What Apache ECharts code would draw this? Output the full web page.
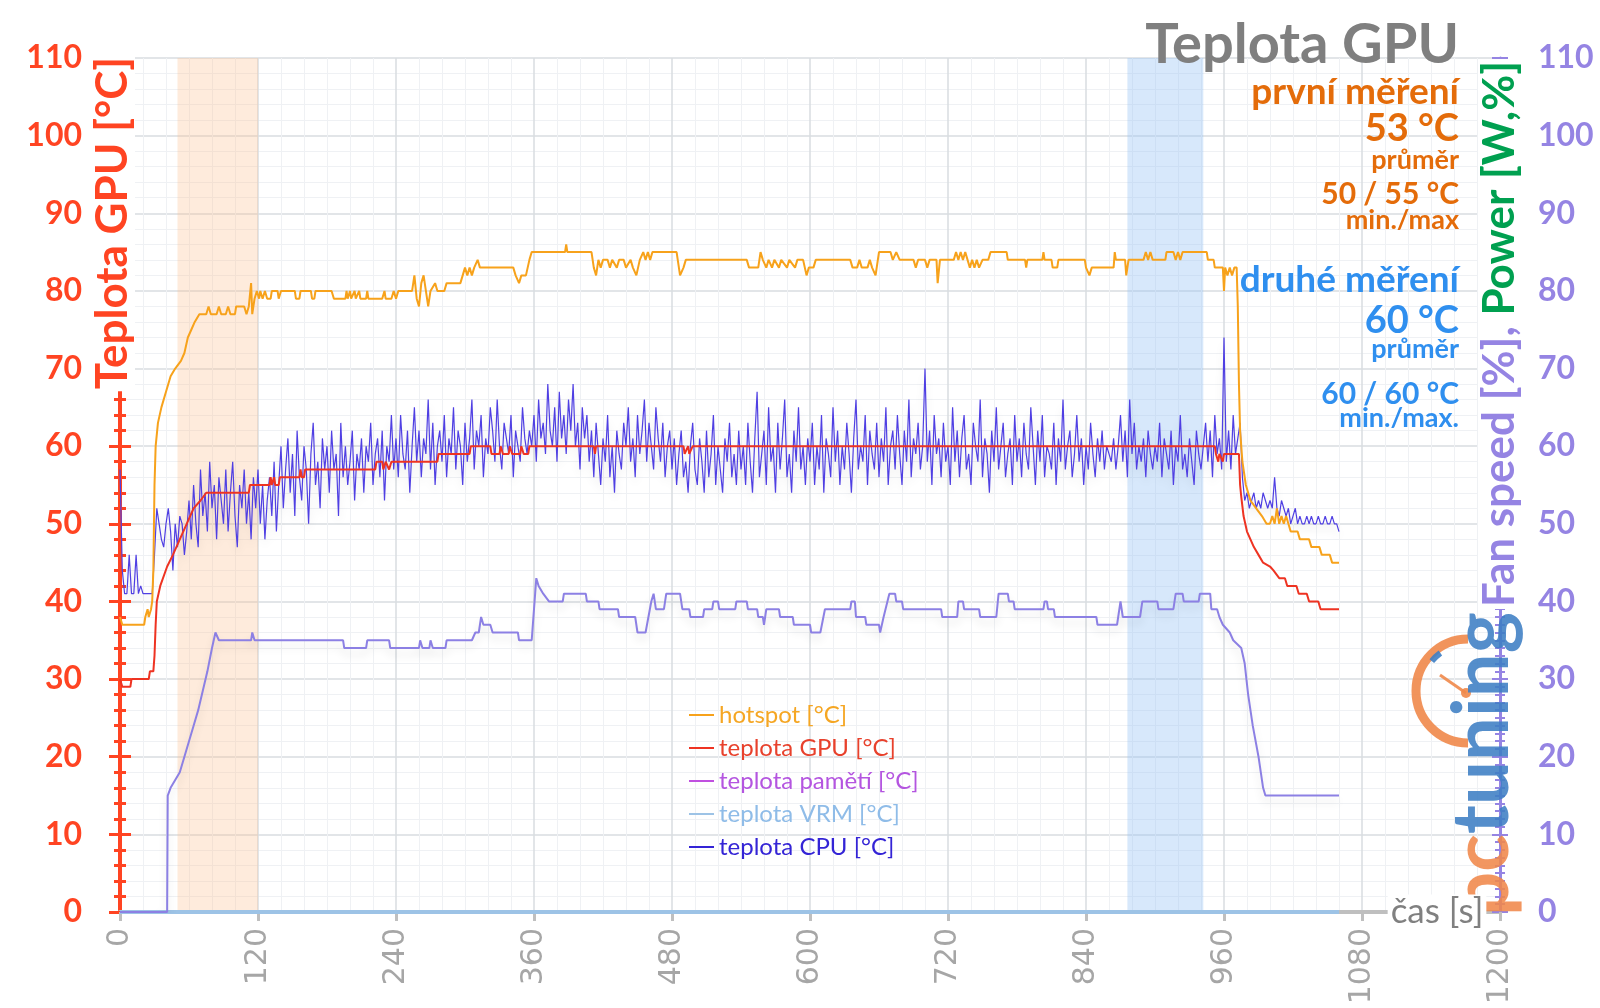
<!DOCTYPE html>
<html><head><meta charset="utf-8">
<script src="https://cdn.jsdelivr.net/npm/echarts@6/dist/echarts.min.js"></script>
<style>html,body{margin:0;padding:0;background:#fff}#c{width:1600px;height:1008px}</style>
</head><body><div id="c"></div><script>
// ---------- DATA ----------
const chartTitle = 'Teplota GPU';
const leftAxisTitle = 'Teplota GPU [°C]';
const rightAxisTitleA = 'Fan speed [%],';
const rightAxisTitleB = ' Power [W,%]';
const xAxisName = 'čas [s]';
const xMax = 1200, xStep = 120;
const yMax = 110, yStep = 10;
const firstRun = ['první měření', '53 °C', 'průměr', '50 / 55 °C', 'min./max'];
const secondRun = ['druhé měření', '60 °C', 'průměr', '60 / 60 °C', 'min./max.'];
const seriesNames = ['hotspot [°C]', 'teplota GPU [°C]', 'teplota pamětí [°C]', 'teplota VRM [°C]', 'teplota CPU [°C]'];
const orangeBand = [50, 120];
const blueBand = [876, 942];

// [time s, °C]
const hotspot = [[0,38],[2,37],[21,37],[22,38],[24,39],[25,38],[27,39],[28,40],[29,44],[30,55],[31,60],[33,63],[36,65],[40,67],[44,69],[48,70],[53,71],[56,72],[59,74],[62,75],[65,76],[69,77],[75,77],[77,78],[79,77],[84,77],[86,78],[88,77],[92,77],[94,78],[96,77],[100,77],[101,78],[108,78],[110,77],[112,78],[114,81],[115,77],[117,79],[119,80],[121,79],[122,80],[124,79],[126,80],[128,79],[131,79],[132,80],[137,80],[138,79],[140,80],[152,80],[153,79],[156,79],[157,80],[166,80],[167,79],[169,79],[170,80],[184,80],[186,79],[196,79],[197,80],[198,79],[200,80],[201,79],[204,80],[205,79],[208,80],[209,79],[214,79],[215,80],[216,79],[228,79],[230,80],[231,79],[236,79],[238,80],[240,79],[242,80],[254,80],[256,82],[258,79],[260,78],[262,81],[264,82],[266,80],[268,78],[270,80],[274,81],[276,80],[282,80],[284,81],[296,81],[298,82],[300,83],[302,82],[304,83],[306,82],[308,83],[311,84],[313,83],[342,83],[344,82],[347,81],[349,82],[353,82],[356,84],[358,85],[387,85],[388,86],[389,85],[410,85],[412,83],[414,82],[416,84],[418,83],[420,84],[424,84],[426,83],[428,84],[432,83],[434,84],[438,84],[440,83],[444,84],[446,83],[449,82],[452,84],[455,85],[457,84],[459,85],[461,84],[463,85],[484,85],[486,83],[487,82],[490,83],[492,84],[545,84],[547,83],[555,83],[557,85],[559,84],[562,83],[564,84],[567,83],[569,84],[573,83],[575,84],[580,83],[582,84],[587,83],[589,84],[594,84],[597,82],[599,83],[603,83],[605,84],[635,84],[637,83],[641,83],[643,84],[645,83],[650,83],[652,84],[654,83],[657,82],[660,85],[670,85],[672,84],[675,85],[678,84],[690,84],[692,83],[694,84],[700,84],[702,83],[704,84],[710,84],[711,81],[713,84],[725,84],[727,85],[729,84],[731,85],[733,84],[735,85],[737,84],[739,83],[741,84],[743,83],[745,84],[747,83],[750,84],[755,84],[757,85],[771,85],[772,84],[787,84],[788,83],[789,84],[802,84],[803,85],[804,84],[810,84],[811,83],[815,83],[816,84],[839,84],[840,83],[843,82],[845,83],[864,83],[865,85],[866,84],[874,84],[875,82],[877,84],[890,84],[892,85],[894,84],[896,85],[898,84],[909,84],[910,85],[916,85],[918,84],[920,85],[922,84],[924,85],[945,85],[946,84],[951,84],[952,83],[959,83],[960,80],[961,83],[963,82],[965,83],[967,82],[969,83],[971,83],[972,78],[973,68],[974,62],[976,58],[979,55],[983,53],[988,52],[993,51],[997,50],[1000,50],[1002,51],[1004,50],[1006,52],[1008,50],[1010,51],[1012,50],[1014,51],[1016,50],[1018,49],[1024,49],[1026,48],[1034,48],[1036,47],[1043,47],[1045,46],[1052,46],[1054,45],[1060,45]];

const gpuTemp = [[0,30],[2,29],[9,29],[10,30],[25,30],[26,31],[29,31],[30,33],[31,37],[32,40],[35,42],[41,44.5],[46,46],[52,48],[58,50],[64,52],[70,53],[75,54],[112,54],[113,55],[130,55],[131,56],[132,55],[134,56],[135,55],[138,55],[139,56],[156,56],[157,57],[158,56],[160,56],[161,57],[222,57],[223,58],[228,58],[229,57],[231,58],[234,57],[236,58],[276,58],[277,59],[304,59],[305,60],[322,60],[323,59],[330,59],[331,60],[333,59],[338,59],[339,60],[341,59],[348,59],[349,60],[351,59],[355,59],[356,60],[412,60],[413,59],[414,60],[490,60],[491,59],[494,60],[495,59],[498,60],[952,60],[953,59],[955,58],[956,59],[959,58],[960,59],[973,59],[974,55],[975,53.5],[977,51],[980,49],[983,48],[986,47],[990,46],[994,45],[1000,44.5],[1003,44],[1008,43],[1013,43],[1015,42],[1023,42],[1025,41],[1032,41],[1034,40],[1042,40],[1044,39],[1060,39]];

const memTemp = [[0,0],[1060,0]];
const vrmTemp = [[0,0],[1060,0]];

// CPU temperature, one reading every cpuStep seconds from t = 0 (one row = 60 s)
const cpuStep = 2;
const cpuTemp = [
  57,44,41,41,46,41,41,46,41,42,41,41,41,41,41,46,52,50,48,47,50,52,49,44,50,47,51,50,46,49,
  53,48,55,50,47,57,51,54,49,58,52,55,48,56,53,50,57,49,54,58,51,47,55,52,57,50,54,48,56,52,
  57,50,55,48,53,56,51,58,49,55,60,52,57,61,54,59,51,62,56,53,60,57,50,59,63,55,58,52,61,57,
  60,54,62,57,59,51,63,56,60,55,58,62,53,59,57,61,54,60,58,63,55,59,61,56,62,53,60,58,64,57,
  61,56,64,59,57,62,54,60,65,58,62,56,61,59,66,57,63,55,60,62,58,64,56,61,59,65,57,62,60,55,
  63,58,61,66,57,62,60,64,56,61,59,65,62,58,66,60,57,63,61,59,64,56,62,60,58,65,61,59,62,60,
  64,58,66,61,63,59,68,62,60,65,58,67,61,64,59,66,62,68,60,63,57,65,61,64,58,62,56,63,59,55,
  61,58,64,56,60,54,62,59,57,63,60,65,58,61,56,64,59,62,66,58,63,60,57,65,61,58,63,56,60,62,
  57,61,55,59,62,56,58,54,60,63,57,55,61,58,54,62,56,59,64,55,60,57,54,61,58,63,56,59,55,62,
  57,60,55,63,58,54,61,67,56,59,62,55,65,58,60,54,63,57,61,66,56,59,54,62,58,65,57,60,55,61,
  58,63,55,60,57,64,54,61,59,56,65,58,62,55,60,57,63,59,54,61,66,57,60,58,64,55,62,59,57,63,
  56,61,58,65,55,60,62,57,64,59,55,62,58,66,56,61,59,63,57,60,70,58,62,55,64,59,61,56,63,58,
  60,55,65,58,62,56,61,64,57,59,55,63,60,58,66,56,61,59,54,62,58,65,57,60,63,56,59,61,55,64,
  58,61,56,63,59,57,65,60,55,62,58,64,56,60,59,57,63,55,61,58,66,57,60,62,56,59,64,58,61,55,
  60,57,63,59,56,61,58,62,57,60,59,58,61,57,60,64,58,62,56,66,59,63,57,60,58,61,56,62,59,57,
  60,58,63,56,61,59,57,62,55,60,58,64,57,59,56,61,58,55,62,59,57,60,63,58,62,56,64,59,61,57,
  74,58,62,57,64,59,61,63,56,53,54,52,53,54,52,53,52,54,53,52,53,52,56,52,51,53,52,51,52,50,
  51,52,50,51,50,50,51,50,51,50,50,51,50,50,51,50,50,51,50,50,49
];

// fan speed [%] (right axis)
const fanSpeed = [[0,0],[41,0],[41.5,15],[44,16],[48,17],[52,18],[56,20],[60,22],[64,24],[68,26],[72,28.5],[76,31],[80,34],[83,36],[86,35],[114,35],[115,36],[117,35],[194,35],[195,34],[214,34],[215,35],[234,35],[235,34],[260,34],[261,35],[263,34],[269,34],[270,35],[272,34],[283,34],[284,35],[306,35],[309,36],[312,36],[314,38],[316,37],[322,37],[324,36],[346,36],[347,35],[358,35],[362,43],[364,42],[368,41],[373,40],[385,40],[386,41],[405,41],[406,40],[416,40],[417,39],[433,39],[434,38],[448,38],[450,36],[457,36],[462,40],[464,41],[466,39],[473,39],[475,41],[487,41],[489,39],[495,39],[496,38],[507,38],[508,39],[515,39],[516,40],[520,40],[521,39],[535,39],[536,40],[545,40],[546,39],[554,39],[555,38],[559,38],[560,37],[561,38],[562,39],[573,39],[574,38],[585,38],[586,37],[600,37],[601,36],[609,36],[613,39],[635,39],[636,40],[639,40],[640,38],[648,38],[649,37],[660,37],[661,36],[664,38],[669,41],[674,41],[675,40],[680,40],[681,39],[714,39],[715,38],[728,38],[729,40],[733,40],[734,39],[747,39],[748,38],[762,38],[764,41],[772,41],[773,40],[777,40],[778,39],[803,39],[804,40],[806,40],[807,39],[812,39],[813,38],[849,38],[850,37],[867,37],[870,40],[872,38],[887,38],[889,40],[902,40],[903,39],[916,39],[918,41],[924,41],[925,40],[938,40],[939,41],[948,41],[949,39],[954,39],[956,38],[959,37],[965,36],[968,35],[975,34],[978,32],[981,28],[985,24],[990,20],[994,16],[996,15],[1060,15]];

// ---------- CHART ----------
const RED = '#FF4422', PURPLE = '#9584E3';
const chart = echarts.init(document.getElementById('c'), null, {renderer: 'canvas'});

function yAx(pos, color, inside, showLabel, minorSplit, lw) {
  return {
    type: 'value', position: pos, min: 0, max: yMax, interval: yStep,
    axisLine: {show: !inside, lineStyle: {color: color, width: lw}},
    axisTick: {show: true, inside: inside, length: pos === 'left' ? 11 : 8, lineStyle: {color: color, width: pos === 'left' ? 3 : 2}},
    minorTick: {show: true, splitNumber: pos === 'left' ? 5 : 10, length: pos === 'left' ? 6 : 5, lineStyle: {color: color, width: pos === 'left' ? 3 : 2}},
    axisLabel: {show: showLabel, margin: 38, color: color, fontFamily: 'Lato', fontWeight: 'bold', fontSize: 32},
    splitLine: {show: minorSplit, lineStyle: {color: '#D9DCE1', width: 1.5}},
    minorSplitLine: {show: minorSplit, lineStyle: {color: '#EFF1F4', width: 1}}
  };
}

const textEls = [];
function addRunBlock(lines, color, ys, sizes) {
  lines.forEach((t, i) => {
    textEls.push({type: 'text', x: 1459, y: ys[i], z: 100,
      style: {text: t, fill: color, font: 'bold ' + sizes[i] + 'px Lato', align: 'right', verticalAlign: 'middle'}});
  });
}
addRunBlock(firstRun, '#E46C0A', [92, 129, 160, 194, 220], [37, 38, 27, 30, 27]);
addRunBlock(secondRun, '#2F8FEF', [280, 321, 349, 394, 418], [37, 38, 27, 30, 27]);

const option = {
  animation: false,
  backgroundColor: '#ffffff',
  grid: {left: 120, right: 100, top: 58, bottom: 96, containLabel: false, outerBoundsMode: 'none'},
  xAxis: [{
    type: 'value', min: 0, max: xMax, interval: xStep,
    axisLine: {show: true, onZero: false, lineStyle: {color: '#BFBFBF', width: 4}},
    axisTick: {show: true, length: 9, lineStyle: {color: '#BFBFBF', width: 3}},
    axisLabel: {rotate: 90, margin: 16, color: '#A6A6A6', fontFamily: 'DejaVu Sans', fontSize: 30, formatter: v => String(v)},
    splitLine: {show: true, lineStyle: {color: '#D9DCE1', width: 1.5}},
    minorTick: {show: false, splitNumber: 6},
    minorSplitLine: {show: true, lineStyle: {color: '#EFF1F4', width: 1}}
  }],
  yAxis: [
    yAx('left', RED, false, true, true, 4),
    yAx('left', RED, true, false, false, 4),
    yAx('right', PURPLE, false, true, false, 3),
    yAx('right', PURPLE, true, false, false, 3)
  ],
  legend: {
    orient: 'vertical', left: 684, top: 698, itemWidth: 25, itemHeight: 2, itemGap: 9, icon: 'rect',
    textStyle: {fontFamily: 'Lato', fontSize: 24, lineHeight: 24},
    data: [
      {name: seriesNames[0], textStyle: {color: '#F5A623'}},
      {name: seriesNames[1], textStyle: {color: '#E8412C'}},
      {name: seriesNames[2], textStyle: {color: '#B455E0'}},
      {name: seriesNames[3], textStyle: {color: '#8FBCE8'}},
      {name: seriesNames[4], textStyle: {color: '#3424D6'}}
    ]
  },
  series: [
    {name: seriesNames[2], type: 'line', data: memTemp, showSymbol: false, lineStyle: {color: '#C050E0', width: 2}, itemStyle: {color: '#C050E0'},
      markArea: {silent: true, data: [
        [{xAxis: orangeBand[0], itemStyle: {color: 'rgba(251,195,150,0.33)'}}, {xAxis: orangeBand[1]}],
        [{xAxis: blueBand[0], itemStyle: {color: 'rgba(150,195,245,0.38)'}}, {xAxis: blueBand[1]}]
      ]}},
    {name: seriesNames[3], type: 'line', data: vrmTemp, showSymbol: false, lineStyle: {color: '#9DC3E6', width: 4}, itemStyle: {color: '#9DC3E6'}},
    {name: 'fan', type: 'line', yAxisIndex: 2, data: fanSpeed, showSymbol: false,
      lineStyle: {color: '#8C80E4', width: 2, shadowColor: 'rgba(0,0,0,0.12)', shadowBlur: 8, shadowOffsetY: 6}, itemStyle: {color: '#8C80E4'}},
    {name: seriesNames[4], type: 'line', data: cpuTemp.map((v, i) => [i * cpuStep, v]), showSymbol: false,
      lineStyle: {color: '#4F3FE3', width: 1.2, shadowColor: 'rgba(0,0,0,0.10)', shadowBlur: 8, shadowOffsetY: 6}, itemStyle: {color: '#3424D6'}},
    {name: seriesNames[0], type: 'line', data: hotspot, showSymbol: false, lineStyle: {color: '#F7A21B', width: 2}, itemStyle: {color: '#F7A21B'}},
    {name: seriesNames[1], type: 'line', data: gpuTemp, showSymbol: false, lineStyle: {color: '#EE3322', width: 2}, itemStyle: {color: '#EE3322'}}
  ],
  graphic: {elements: [
    {type: 'text', x: 1459, y: 45, z: 100, style: {text: chartTitle, fill: '#7F7F7F', font: 'bold 56px Lato', align: 'right', verticalAlign: 'middle'}},
    ...textEls,
    {type: 'text', x: 113, y: 223, rotation: Math.PI / 2, z: 100,
      style: {text: leftAxisTitle, fill: RED, font: 'bold 44px Lato', align: 'center', verticalAlign: 'middle', backgroundColor: '#fff', padding: [0, 2]}},
    {type: 'text', x: 1500, y: 334, rotation: Math.PI / 2, z: 100,
      style: {text: '{a|' + rightAxisTitleA + '}{b|' + rightAxisTitleB + '}', align: 'center', verticalAlign: 'middle', backgroundColor: '#fff', padding: [0, 2],
        rich: {a: {fill: PURPLE, font: 'bold 44px Lato'}, b: {fill: '#00A050', font: 'bold 44px Lato'}}}},
    {type: 'text', x: 1437, y: 912, z: 100,
      style: {text: xAxisName, fill: '#808080', font: '35px Lato', align: 'center', verticalAlign: 'middle', backgroundColor: '#fff', padding: [0, 3]}},
    // pctuning watermark logo
    {type: 'arc', z: 90, shape: {cx: 1468, cy: 691, r: 52, startAngle: Math.PI / 2, endAngle: Math.PI * 1.5, clockwise: true},
      style: {stroke: '#F0884A', lineWidth: 9, fill: null, opacity: 0.9}},
    {type: 'arc', z: 91, shape: {cx: 1468, cy: 691, r: 47, startAngle: Math.PI * 1.22, endAngle: Math.PI * 1.3, clockwise: true},
      style: {stroke: '#3D7EC4', lineWidth: 6, fill: null, opacity: 0.9}},
    {type: 'line', z: 91, shape: {x1: 1440, y1: 675, x2: 1466, y2: 693}, style: {stroke: '#F0884A', lineWidth: 3, opacity: 0.9}},
    {type: 'circle', z: 91, shape: {cx: 1466, cy: 693, r: 5}, style: {fill: '#F0884A', opacity: 0.9}},
    {type: 'text', x: 1483, y: 764, rotation: Math.PI / 2, z: 92,
      style: {text: '{p|pc}{t|tuning}', align: 'center', verticalAlign: 'middle', opacity: 0.88,
        rich: {p: {fill: '#F0884A', font: 'bold 78px Lato'}, t: {fill: '#3D7EC4', font: 'bold 78px Lato'}}}}
  ]}
};
chart.setOption(option);
</script></body></html>
